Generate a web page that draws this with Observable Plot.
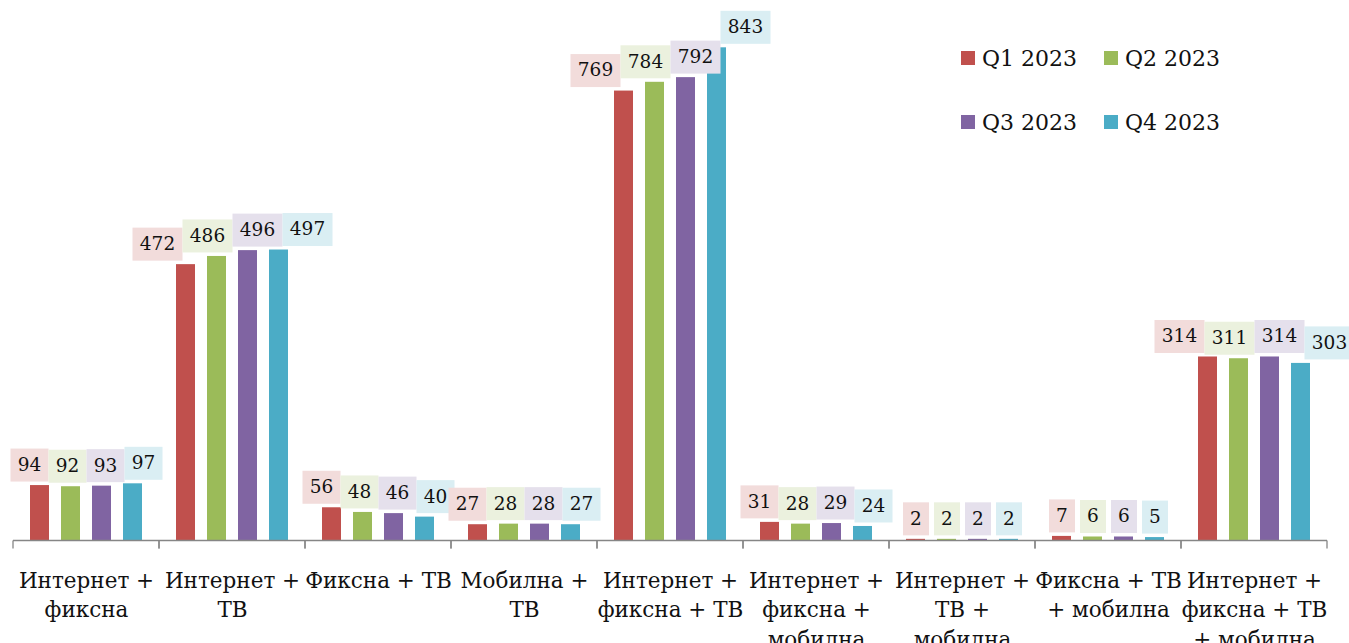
<!DOCTYPE html>
<html>
<head>
<meta charset="utf-8">
<script src="https://cdn.jsdelivr.net/npm/d3@7"></script>
<script src="https://cdn.jsdelivr.net/npm/@observablehq/plot@0.6"></script>
<style>
  html, body { margin: 0; padding: 0; background: #fff; }
  #wrap { position: relative; width: 1349px; height: 643px; font-family: "DejaVu Serif", serif; }
  #legend { position: absolute; left: 961px; top: 44px; display: grid; grid-template-columns: 143px 130px; row-gap: 36px; font-size: 22px; color: #111; }
  .item { display: flex; align-items: center; height: 28px; white-space: nowrap; }
  .sw { width: 14px; height: 14px; margin-right: 7px; display: inline-block; }
</style>
</head>
<body>
<div id="wrap"><div id="legend"></div></div>
<script>
const categories = [
  "Интернет +\nфиксна",
  "Интернет +\nТВ",
  "Фиксна + ТВ",
  "Мобилна +\nТВ",
  "Интернет +\nфиксна + ТВ",
  "Интернет +\nфиксна +\nмобилна",
  "Интернет +\nТВ +\nмобилна",
  "Фиксна + ТВ\n+ мобилна",
  "Интернет +\nфиксна + ТВ\n+ мобилна"
];
const series = ["Q1 2023", "Q2 2023", "Q3 2023", "Q4 2023"];
const q1 = [94, 472, 56, 27, 769, 31, 2, 7, 314];
const q2 = [92, 486, 48, 28, 784, 28, 2, 6, 311];
const q3 = [93, 496, 46, 28, 792, 29, 2, 6, 314];
const q4 = [97, 497, 40, 27, 843, 24, 2, 5, 303];
const colors = ["#C0504D", "#9BBB59", "#8064A2", "#4BACC6"];
const tints = ["#F2DCDB", "#EBF1DE", "#E5E0EC", "#DAEEF3"];

const seriesValues = [q1, q2, q3, q4];
const data = [];
categories.forEach((c, ci) => {
  series.forEach((s, si) => {
    data.push({category: c, series: s, si, value: seriesValues[si][ci]});
  });
});

const NS = "http://www.w3.org/2000/svg";

// 1-D spreading of label boxes so neighbours do not overlap
function spread(items) {
  const place = c => { c.left = d3.mean(c.members, m => m.x) - c.w / 2; };
  let clusters = items.map(it => ({members: [it], w: it.w}));
  clusters.forEach(place);
  let changed = true;
  while (changed) {
    changed = false;
    for (let k = 0; k < clusters.length - 1; k++) {
      const a = clusters[k], b = clusters[k + 1];
      if (a.left + a.w > b.left + 0.01) {
        const m = {members: a.members.concat(b.members), w: a.w + b.w};
        place(m);
        clusters.splice(k, 2, m);
        changed = true;
        break;
      }
    }
  }
  for (const c of clusters) {
    let x = c.left;
    for (const m of c.members) { m.px = x + m.w / 2; x += m.w; }
  }
}

function labelBoxes(index, scales, values, dimensions, context, next) {
  const g = next(index, scales, values, dimensions, context);
  const texts = Array.from(g.querySelectorAll("text"));
  const items = Array.from(index).map((i, k) => ({
    i, node: texts[k], x: values.x[i], y: values.y[i],
    w: 12 * String(data[i].value).length + 14
  })).sort((a, b) => a.x - b.x);
  spread(items);
  const first = g.firstChild;
  const h = 33;
  for (const it of items) {
    if (it.node) {
      if (it.node.hasAttribute("transform")) it.node.setAttribute("x", it.px - it.x);
      else it.node.setAttribute("x", it.px);
    }
    const r = document.createElementNS(NS, "rect");
    r.setAttribute("x", it.px - it.w / 2);
    r.setAttribute("y", it.y - h / 2);
    r.setAttribute("width", it.w);
    r.setAttribute("height", h);
    r.setAttribute("fill", tints[data[it.i].si]);
    g.insertBefore(r, first);
  }
  return g;
}

function axisTicks(index, scales, values, dimensions, context, next) {
  const g = next(index, scales, values, dimensions, context);
  const y = scales.y(0);
  const xl = dimensions.marginLeft;
  const xr = dimensions.width - dimensions.marginRight;
  for (const x of [xl, xr]) {
    const l = document.createElementNS(NS, "line");
    l.setAttribute("x1", x); l.setAttribute("x2", x);
    l.setAttribute("y1", y); l.setAttribute("y2", y + 8);
    l.setAttribute("stroke", "#868686");
    l.setAttribute("stroke-width", 1.3);
    g.appendChild(l);
  }
  return g;
}

const chart = Plot.plot({
  width: 1349,
  height: 643,
  marginLeft: 12,
  marginRight: 22,
  marginTop: 14,
  marginBottom: 103,
  style: {fontFamily: "DejaVu Serif", background: "white", overflow: "visible"},
  fx: {domain: categories, axis: null, padding: 0},
  x: {domain: series, axis: null, paddingInner: 0.375, paddingOuter: 0.469},
  y: {domain: [0, 900], axis: null},
  color: {domain: series, range: colors},
  marks: [
    Plot.barY(data, {fx: "category", x: "series", y: "value", fill: "series"}),
    Plot.ruleY([0], {stroke: "#868686", strokeWidth: 1.3, render: axisTicks}),
    Plot.text(data, {
      fx: "category", x: "series", y: "value", text: d => String(d.value),
      dy: -20.5, lineAnchor: "middle", fontSize: 18.5, fill: "#111",
      render: labelBoxes
    }),
    Plot.text(categories, {
      fx: d => d, text: d => d, frameAnchor: "bottom", lineAnchor: "top",
      dy: 26, fontSize: 21.5, lineHeight: 1.38, fill: "#111"
    })
  ]
});
document.getElementById("wrap").prepend(chart);

const legend = document.getElementById("legend");
series.forEach((s, i) => {
  const it = document.createElement("div");
  it.className = "item";
  const sw = document.createElement("span");
  sw.className = "sw";
  sw.style.background = colors[i];
  it.appendChild(sw);
  it.appendChild(document.createTextNode(s));
  legend.appendChild(it);
});
</script>
</body>
</html>
